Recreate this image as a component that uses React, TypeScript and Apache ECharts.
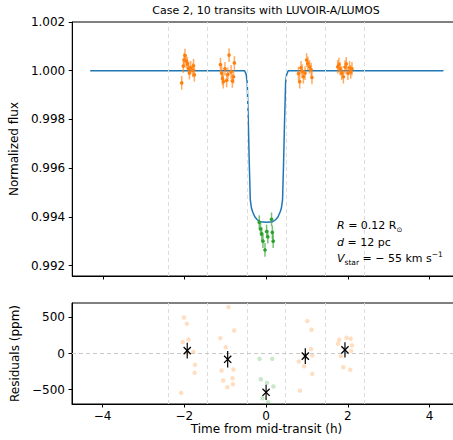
import React, { useEffect, useRef } from 'react';
import * as echarts from 'echarts';

const TITLE = 'Case 2, 10 transits with LUVOIR-A/LUMOS';
const X_LABEL = 'Time from mid-transit (h)';
const Y_LABEL_TOP = 'Normalized flux';
const Y_LABEL_BOTTOM = 'Residuals (ppm)';

const X_TICKS = [-4, -2, 0, 2, 4];
const FLUX_TICKS = [0.992, 0.994, 0.996, 0.998, 1.0, 1.002];
const RES_TICKS = [-500, 0, 500];
const WINDOW_EDGES = [-2.4, -1.44, -0.47, 0.48, 1.44, 2.4];

// Transit model
const MODEL_T = [-4.31, -0.53, -0.49, -0.465, -0.44, -0.415, -0.39, -0.36, -0.33, -0.28, -0.22, -0.15, 0.0, 0.16, 0.23, 0.29, 0.34, 0.37, 0.40, 0.425, 0.45, 0.475, 0.5, 0.54, 4.34];
const MODEL_FLUX = [1.0, 1.0, 0.99985, 0.9995, 0.998, 0.9962, 0.9947, 0.99435, 0.9942, 0.994, 0.99388, 0.9938, 0.99378, 0.9938, 0.99388, 0.994, 0.9942, 0.99435, 0.9947, 0.9962, 0.998, 0.9995, 0.99985, 1.0, 1.0];

// Out-of-transit photometry (orange)
const ORANGE_T = [
  -2.07, -2.03, -2.01, -1.99, -1.96, -1.93, -1.9, -1.88, -1.85, -1.8, -1.78, -1.76,
  -1.12, -1.09, -1.07, -1.05, -1.01, -0.97, -0.94, -0.91, -0.86, -0.83, -0.8, -0.78,
  0.79, 0.82, 0.85, 0.88, 0.91, 0.95, 0.99, 1.02, 1.06, 1.1, 1.12,
  1.75, 1.78, 1.81, 1.85, 1.89, 1.93, 1.96, 2.0, 2.04, 2.07, 2.1,
];
const ORANGE_FLUX = [
  0.9995, 1.00019, 1.00045, 1.00062, 1.0004, 1.00028, 1.0001, 0.99992, 1.00012, 1.00002, 1.0002, 0.99983,
  1.00025, 0.9999, 0.99968, 0.99955, 1.00008, 0.9996, 0.99985, 1.00064, 0.99995, 0.99958, 0.99975, 1.00032,
  0.99988, 0.99955, 1.00012, 0.99998, 0.99975, 0.9999, 1.00044, 1.0003, 1.00016, 1.00005, 0.99972,
  1.00016, 1.00025, 1.00008, 0.9999, 0.99975, 1.00015, 1.00028, 0.9999, 1.00012, 0.99995, 1.00008,
];
// In-transit photometry (green)
const GREEN_T = [-0.17, -0.14, -0.11, -0.08, -0.03, 0.01, 0.04, 0.13, 0.15, 0.17];
const GREEN_FLUX = [0.99378, 0.9935, 0.9933, 0.993, 0.99264, 0.9934, 0.99318, 0.9939, 0.99336, 0.993];
const FLUX_ERR = 0.00028;

// Residuals (ppm)
const RES_ORANGE_T = [
  -2.01, -1.94, -1.9, -2.04, -1.93, -1.78, -1.74, -1.75, -2.08,
  -0.92, -0.78, -1.12, -0.99, -0.8, -1.09, -0.82, -1.05, -0.81, -0.95,
  1.01, 1.11, 1.1, 1.13, 0.95, 0.8, 0.93, 1.13, 0.83,
  1.97, 2.07, 1.79, 1.76, 2.1, 2.08, 1.83, 1.89, 2.06,
];
const RES_ORANGE_PPM = [
  500, 412, 194, 157, 10, 22, -157, -268, -546,
  643, 319, 213, 88, -222, -236, -343, -375, -426, -468,
  449, 329, 60, -28, -40, -111, -176, -282, -514,
  218, 204, 190, 135, 111, 37, -37, -190, -226,
];
const RES_GREEN_T = [-0.16, 0.15, -0.13, 0.02, 0.18, -0.09, 0.05];
const RES_GREEN_PPM = [-74, -74, -357, -407, -458, -620, -676];
const BIN_T = [-1.93, -0.94, 0.0, 0.96, 1.93];
const BIN_PPM = [40, -80, -538, -37, 51];
const BIN_ERR = [110, 115, 105, 110, 105];

const FONT = 'DejaVu Sans';
const ORANGE = '#ff7f0e';
const GREEN = '#2ca02c';
const BLUE = '#1f77b4';

const minus = (s: string) => s.replace('-', '\u2212');

function errRender(dot: string, bar: string) {
  return (params: any, api: any) => {
    const x = api.value(0);
    const y = api.value(1);
    const e = api.value(2);
    const top = api.coord([x, y + e]);
    const bot = api.coord([x, y - e]);
    const c = api.coord([x, y]);
    return {
      type: 'group',
      children: [
        { type: 'line', shape: { x1: top[0], y1: top[1], x2: bot[0], y2: bot[1] }, style: { stroke: bar, lineWidth: 1.5 } },
        { type: 'circle', shape: { cx: c[0], cy: c[1], r: 1.8 }, style: { fill: dot } },
      ],
    };
  };
}

function binRender(params: any, api: any) {
  const x = api.value(0);
  const y = api.value(1);
  const e = api.value(2);
  const top = api.coord([x, y + e]);
  const bot = api.coord([x, y - e]);
  const c = api.coord([x, y]);
  const s = 3.6;
  return {
    type: 'group',
    children: [
      { type: 'line', shape: { x1: top[0], y1: top[1], x2: bot[0], y2: bot[1] }, style: { stroke: '#000', lineWidth: 1.2 } },
      { type: 'line', shape: { x1: c[0] - s, y1: c[1] - s, x2: c[0] + s, y2: c[1] + s }, style: { stroke: '#000', lineWidth: 1.3 } },
      { type: 'line', shape: { x1: c[0] - s, y1: c[1] + s, x2: c[0] + s, y2: c[1] - s }, style: { stroke: '#000', lineWidth: 1.3 } },
    ],
  };
}

export default function App() {
  const ref = useRef<HTMLDivElement>(null);
  useEffect(() => {
    if (!ref.current) return;
    const chart = echarts.init(ref.current, null, { renderer: 'svg' });
    const axisCommon = {
      axisLine: { show: true, onZero: false, lineStyle: { color: '#000', width: 1 } },
      axisTick: { show: true, length: 3.5, lineStyle: { color: '#000', width: 1 } },
      splitLine: { show: false },
    };
    const dashed = { color: '#dcdcdc', type: [4, 3], width: 1 };
    const option: any = {
      animation: false,
      backgroundColor: '#fff',
      title: {
        text: TITLE,
        left: 266,
        top: 5,
        textAlign: 'center',
        padding: 0,
        textStyle: { fontFamily: FONT, fontSize: 11, fontWeight: 'normal', color: '#000' },
      },
      grid: [
        { left: 72, top: 22, width: 389, height: 254, show: true, borderColor: '#000', borderWidth: 1, containLabel: false },
        { left: 72, top: 303, width: 389, height: 101, show: true, borderColor: '#000', borderWidth: 1, containLabel: false },
      ],
      xAxis: [
        {
          gridIndex: 0, type: 'value', min: -4.75, max: 4.77, ...axisCommon,
          axisTick: { ...axisCommon.axisTick, customValues: X_TICKS },
          axisLabel: { show: false },
        },
        {
          gridIndex: 1, type: 'value', min: -4.75, max: 4.77, ...axisCommon,
          axisTick: { ...axisCommon.axisTick, customValues: X_TICKS },
          axisLabel: {
            customValues: X_TICKS, margin: 6, fontFamily: FONT, fontSize: 12, color: '#000',
            formatter: (v: number) => minus(String(v)),
          },
          name: X_LABEL, nameLocation: 'middle', nameGap: 19,
          nameTextStyle: { fontFamily: FONT, fontSize: 12, color: '#000' },
        },
      ],
      yAxis: [
        {
          gridIndex: 0, type: 'value', min: 0.99157, max: 1.002, ...axisCommon,
          axisTick: { ...axisCommon.axisTick, customValues: FLUX_TICKS },
          axisLabel: {
            customValues: FLUX_TICKS, margin: 7, fontFamily: FONT, fontSize: 12, color: '#000',
            formatter: (v: number) => v.toFixed(3),
          },
          name: Y_LABEL_TOP, nameLocation: 'middle', nameGap: 47,
          nameTextStyle: { fontFamily: FONT, fontSize: 12, color: '#000' },
        },
        {
          gridIndex: 1, type: 'value', min: -700, max: 700, ...axisCommon,
          axisTick: { ...axisCommon.axisTick, customValues: RES_TICKS },
          axisLabel: {
            customValues: RES_TICKS, margin: 7, fontFamily: FONT, fontSize: 12, color: '#000',
            formatter: (v: number) => minus(String(v)),
          },
          name: Y_LABEL_BOTTOM, nameLocation: 'middle', nameGap: 47,
          nameTextStyle: { fontFamily: FONT, fontSize: 12, color: '#000' },
        },
      ],
      series: [
        {
          name: 'model', type: 'line', xAxisIndex: 0, yAxisIndex: 0,
          data: MODEL_T.map((t, i) => [t, MODEL_FLUX[i]]),
          showSymbol: false, symbol: 'none', smooth: false,
          lineStyle: { color: BLUE, width: 1.5 }, z: 3,
          markLine: {
            silent: true, symbol: ['none', 'none'], label: { show: false },
            lineStyle: dashed, animation: false,
            data: WINDOW_EDGES.map((x) => ({ xAxis: x })),
          },
        },
        {
          name: 'out-of-transit', type: 'custom', xAxisIndex: 0, yAxisIndex: 0,
          data: ORANGE_T.map((t, i) => [t, ORANGE_FLUX[i], FLUX_ERR]),
          encode: { x: 0, y: 1 },
          renderItem: errRender(ORANGE, 'rgba(255,127,14,0.65)'), z: 4,
        },
        {
          name: 'in-transit', type: 'custom', xAxisIndex: 0, yAxisIndex: 0,
          data: GREEN_T.map((t, i) => [t, GREEN_FLUX[i], FLUX_ERR]),
          encode: { x: 0, y: 1 },
          renderItem: errRender(GREEN, 'rgba(44,160,44,0.65)'), z: 4,
        },
        {
          name: 'res-orange', type: 'scatter', xAxisIndex: 1, yAxisIndex: 1,
          data: RES_ORANGE_T.map((t, i) => [t, RES_ORANGE_PPM[i]]),
          symbol: 'circle', symbolSize: 4.5,
          itemStyle: { color: 'rgba(255,127,14,0.32)' }, z: 3,
          markLine: {
            silent: true, symbol: ['none', 'none'], label: { show: false },
            lineStyle: dashed, animation: false,
            data: [...WINDOW_EDGES.map((x) => ({ xAxis: x })), { yAxis: 0, lineStyle: { color: '#c8c8c8', type: [4, 3], width: 1 } }],
          },
        },
        {
          name: 'res-green', type: 'scatter', xAxisIndex: 1, yAxisIndex: 1,
          data: RES_GREEN_T.map((t, i) => [t, RES_GREEN_PPM[i]]),
          symbol: 'circle', symbolSize: 4.5,
          itemStyle: { color: 'rgba(44,160,44,0.32)', borderWidth: 0 }, z: 3,
        },
        {
          name: 'binned', type: 'custom', xAxisIndex: 1, yAxisIndex: 1,
          data: BIN_T.map((t, i) => [t, BIN_PPM[i], BIN_ERR[i]]),
          encode: { x: 0, y: 1 },
          renderItem: binRender, z: 5,
        },
      ],
      graphic: [
        {
          type: 'text', x: 337, y: 225, z: 10,
          style: {
            text: '{i|R} = 0.12 R{sub|\u2299}', fontFamily: FONT, fontSize: 11, fill: '#000', verticalAlign: 'middle',
            rich: {
              i: { fontStyle: 'italic', fontFamily: FONT, fontSize: 11, lineHeight: 16 },
              sub: { fontFamily: FONT, fontSize: 7, lineHeight: 10, verticalAlign: 'bottom' },
            },
          },
        },
        {
          type: 'text', x: 337, y: 242, z: 10,
          style: {
            text: '{i|d} = 12 pc', fontFamily: FONT, fontSize: 11, fill: '#000', verticalAlign: 'middle',
            rich: { i: { fontStyle: 'italic', fontFamily: FONT, fontSize: 11, lineHeight: 16 } },
          },
        },
        {
          type: 'text', x: 337, y: 258, z: 10,
          style: {
            text: '{i|V}{sub|star} = \u2212 55 km s{sup|\u22121}', fontFamily: FONT, fontSize: 11, fill: '#000', verticalAlign: 'middle',
            rich: {
              i: { fontStyle: 'italic', fontFamily: FONT, fontSize: 11, lineHeight: 16 },
              sub: { fontFamily: FONT, fontSize: 7.5, lineHeight: 10, verticalAlign: 'bottom' },
              sup: { fontFamily: FONT, fontSize: 7.5, lineHeight: 10, verticalAlign: 'top' },
            },
          },
        },
      ],
    };
    chart.setOption(option);
    return () => chart.dispose();
  }, []);
  return (
    <div style={{ position: 'absolute', left: 0, top: 0, width: 453, height: 440, overflow: 'hidden', background: '#fff' }}>
      <div ref={ref} style={{ width: 472, height: 440 }} />
    </div>
  );
}
